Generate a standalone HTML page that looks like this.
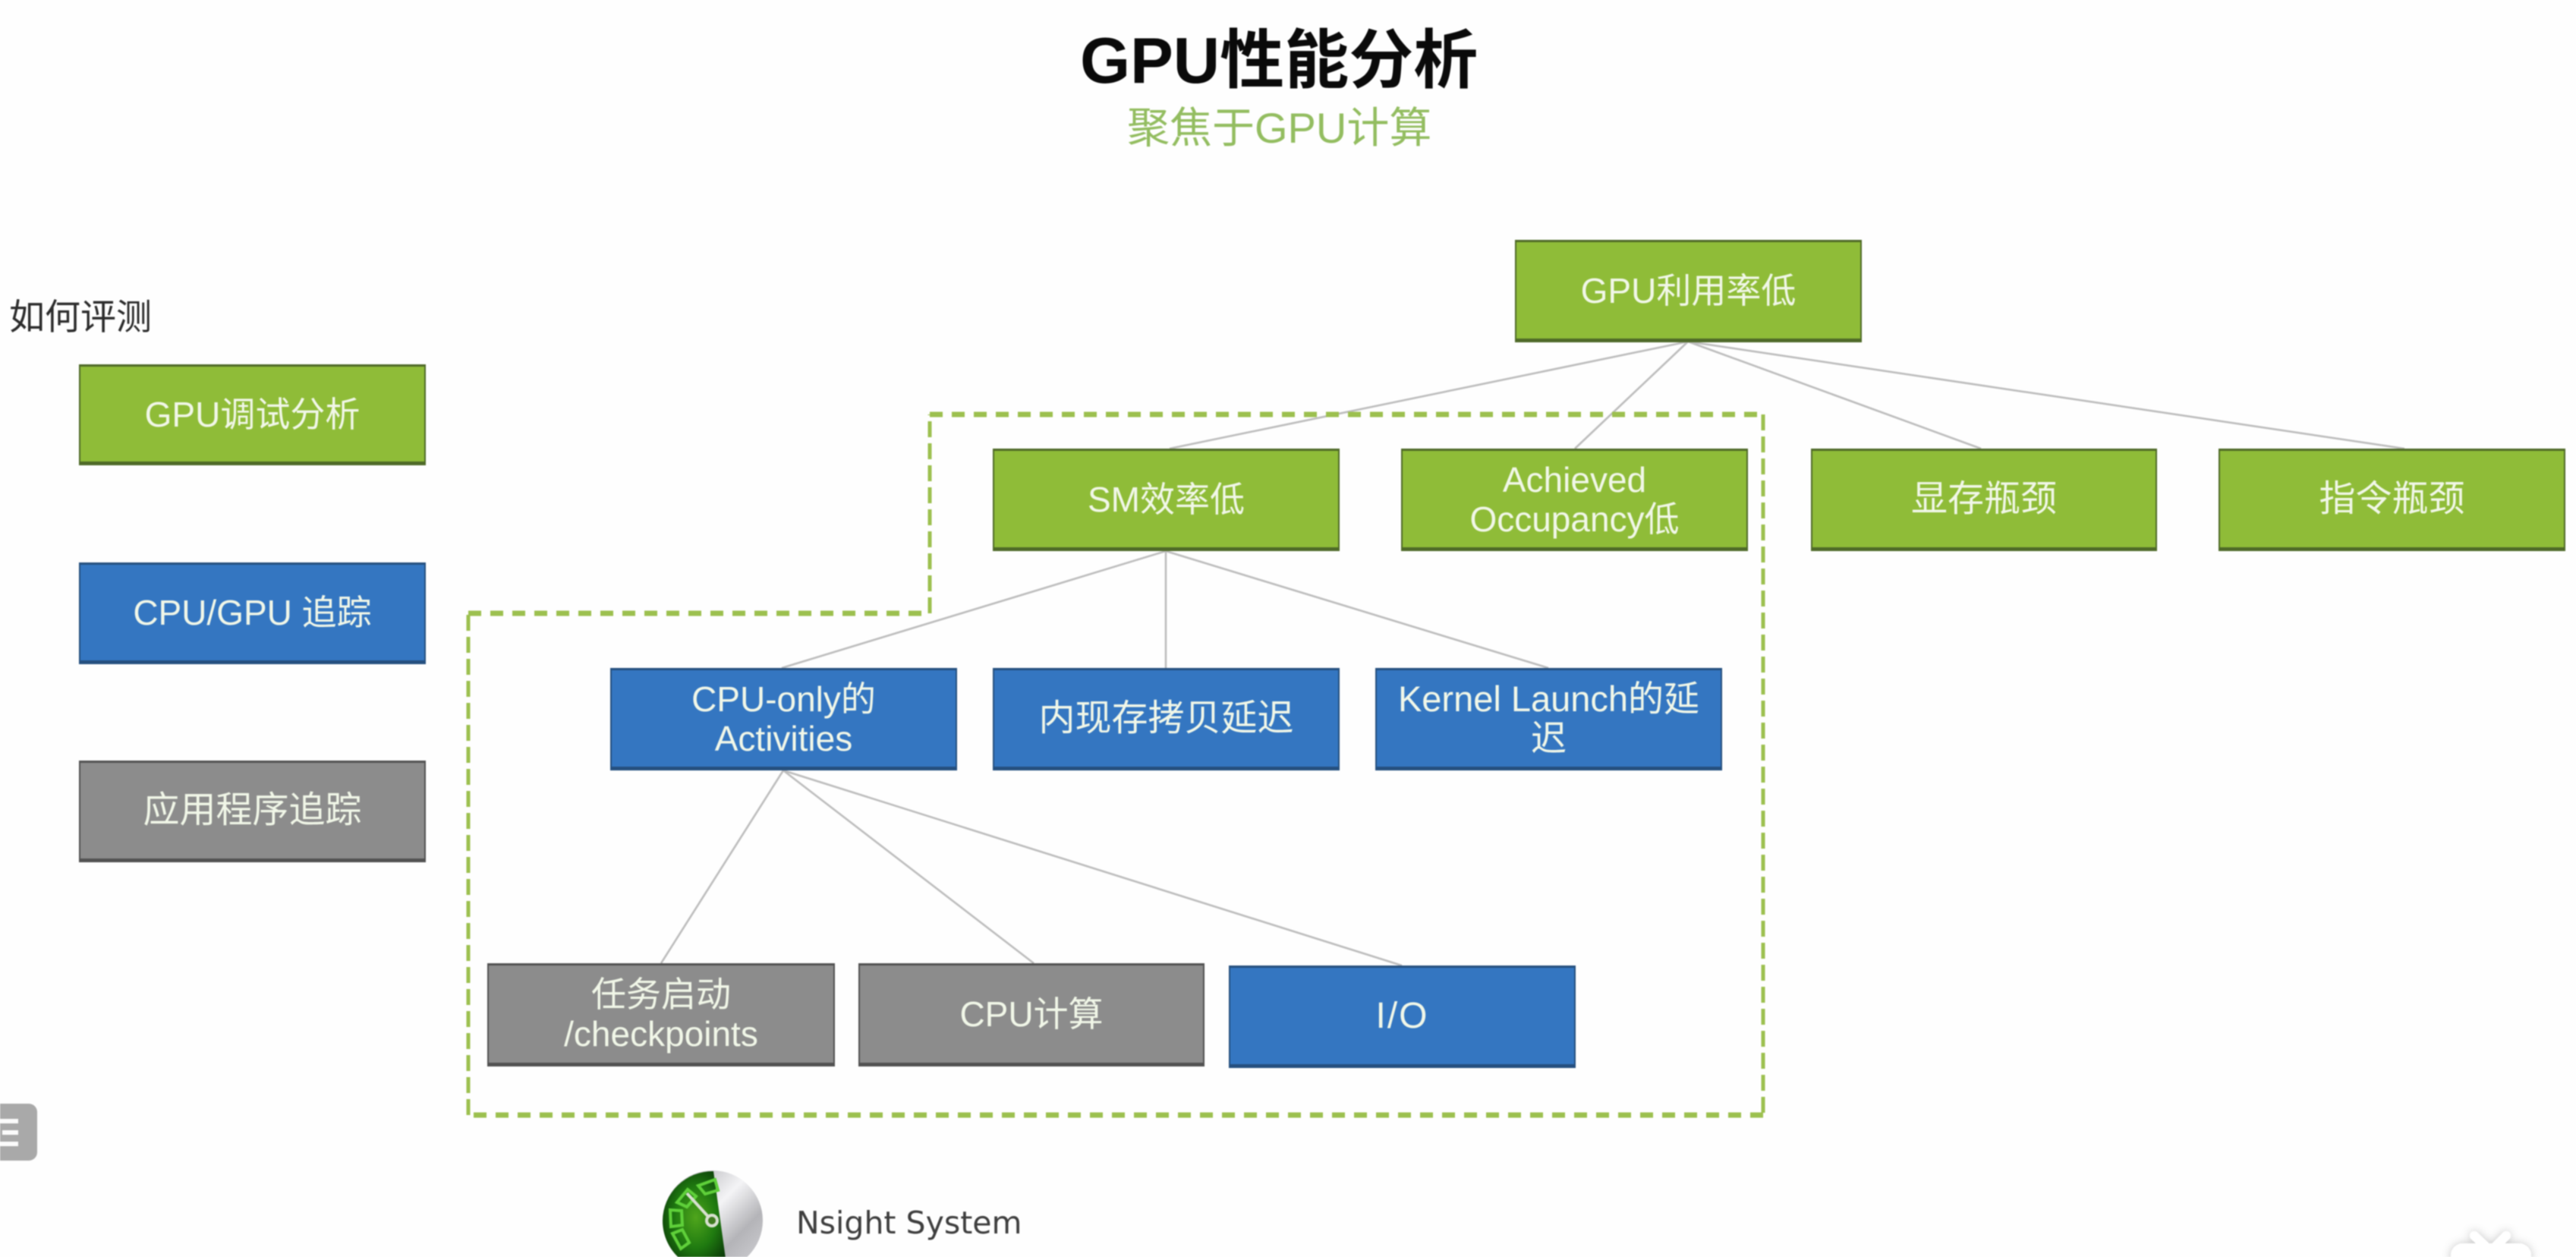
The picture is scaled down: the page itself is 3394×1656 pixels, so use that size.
<!DOCTYPE html>
<html lang="zh">
<head>
<meta charset="utf-8">
<title>GPU性能分析</title>
<style>
html,body{margin:0;padding:0;background:#fefefe;}
#p{position:relative;width:3394px;height:1656px;overflow:hidden;background:#fefefe;filter:blur(0.9px);font-family:"Liberation Sans","Noto Sans CJK SC",sans-serif;}
svg{position:absolute;left:0;top:0;}
.b{position:absolute;box-sizing:border-box;display:flex;align-items:center;justify-content:center;text-align:center;color:#f1f7e8;font-size:46px;line-height:52px;border-style:solid;border-width:3px 2px 5px 2px;}
.c{font-size:48px;}
.g{background:#8fbc38;border-color:#4f6a28;}
.u{background:#3476c1;border-color:#25507f;}
.y{background:#8c8c8c;border-color:#525252;}
.t{position:absolute;white-space:nowrap;}
</style>
</head>
<body>
<div id="p">
<svg width="3394" height="1656" viewBox="0 0 3394 1656">
  <defs>
    <radialGradient id="gr" cx="0.52" cy="0.5" r="0.6">
      <stop offset="0" stop-color="#4fa51c"/><stop offset="0.55" stop-color="#1f7a10"/><stop offset="1" stop-color="#0b3b08"/>
    </radialGradient>
    <linearGradient id="si" x1="0" y1="0" x2="1" y2="1">
      <stop offset="0" stop-color="#9a9a9f"/><stop offset="0.45" stop-color="#f4f4f6"/><stop offset="0.7" stop-color="#b4b4b8"/><stop offset="1" stop-color="#d4d4d8"/>
    </linearGradient>
    <filter id="sh" x="-30%" y="-30%" width="160%" height="160%"><feDropShadow dx="0" dy="0" stdDeviation="6" flood-color="#000" flood-opacity="0.22"/></filter>
  </defs>
  <g stroke="#bdbdbd" stroke-width="2.6" fill="none">
    <line x1="2224" y1="450" x2="1541" y2="591"/>
    <line x1="2224" y1="450" x2="2075" y2="591"/>
    <line x1="2224" y1="450" x2="2610" y2="591"/>
    <line x1="2224" y1="450" x2="3168" y2="591"/>
    <line x1="1536" y1="726" x2="1030" y2="880"/>
    <line x1="1536" y1="726" x2="1536" y2="880"/>
    <line x1="1536" y1="726" x2="2040" y2="880"/>
    <line x1="1032" y1="1015" x2="871" y2="1269"/>
    <line x1="1032" y1="1015" x2="1362" y2="1269"/>
    <line x1="1032" y1="1015" x2="1847" y2="1272"/>
  </g>
  <g fill="none" stroke="#9cc04f">
    <path d="M1225 546H2323M2323 1469H617M617 808H1225" stroke-width="7" stroke-dasharray="17 12"/>
    <path d="M2323 546V1469M617 1469V808M1225 808V546" stroke-width="5" stroke-dasharray="21 8"/>
  </g>
  <!-- Nsight icon -->
  <circle cx="939" cy="1608" r="66" fill="url(#si)"/>
  <path d="M940 1543A66 66 0 0 0 873 1608A66 66 0 0 0 905 1665L957 1665Z" fill="url(#gr)"/>
  <g fill="none" stroke="#5fd03a" stroke-width="4">
    <path d="M920 1562l22 -8l4 14l-17 5Z"/>
    <path d="M892 1584l14 -17l11 9l-12 14Z"/>
    <path d="M884 1616l-1 -22l15 1l1 19Z"/>
    <path d="M897 1645l-11 -20l13 -5l9 17Z"/>
  </g>
  <line x1="905" y1="1572" x2="936" y2="1606" stroke="#d8e0d0" stroke-width="4"/>
  <circle cx="938" cy="1608" r="7" fill="#3f7a20" stroke="#d8e0d0" stroke-width="4"/>
  <!-- bottom-left badge -->
  <rect x="-20" y="1454" width="69" height="75" rx="11" fill="#a9a9a9"/>
  <g stroke="#fbfbfb" stroke-width="6"><line x1="0" y1="1477" x2="24" y2="1477"/><line x1="3" y1="1492" x2="24" y2="1492"/><line x1="0" y1="1507" x2="24" y2="1507"/></g>
  <!-- bottom-right watermark -->
  <g fill="#ffffff" filter="url(#sh)">
    <rect x="3229" y="1638" width="106" height="60" rx="16"/>
    <path d="M3260 1628L3275 1642" stroke="#fff" stroke-width="12" stroke-linecap="round"/>
    <path d="M3302 1628L3288 1642" stroke="#fff" stroke-width="12" stroke-linecap="round"/>
  </g>
</svg>

<div class="t" style="left:1423px;top:31px;font-size:85px;line-height:100px;font-weight:bold;color:#0a0a0a;">GPU性能分析</div>
<div class="t" style="left:1485px;top:136px;font-size:56px;line-height:66px;color:#93bd60;">聚焦于GPU计算</div>
<div class="t" style="left:12px;top:391px;font-size:47px;line-height:54px;color:#2c2c2c;">如何评测</div>

<div class="b g" style="left:104px;top:480px;width:457px;height:133px;">GPU调试分析</div>
<div class="b u" style="left:104px;top:741px;width:457px;height:134px;">CPU/GPU 追踪</div>
<div class="b y c" style="left:104px;top:1002px;width:457px;height:134px;">应用程序追踪</div>

<div class="b g" style="left:1996px;top:316px;width:457px;height:135px;">GPU利用率低</div>
<div class="b g" style="left:1308px;top:591px;width:457px;height:135px;">SM效率低</div>
<div class="b g" style="left:1846px;top:591px;width:457px;height:135px;">Achieved<br>Occupancy低</div>
<div class="b g c" style="left:2386px;top:591px;width:456px;height:135px;">显存瓶颈</div>
<div class="b g c" style="left:2923px;top:591px;width:457px;height:135px;">指令瓶颈</div>

<div class="b u" style="left:804px;top:880px;width:457px;height:135px;">CPU-only的<br>Activities</div>
<div class="b u c" style="left:1308px;top:880px;width:457px;height:135px;">内现存拷贝延迟</div>
<div class="b u" style="left:1812px;top:880px;width:457px;height:135px;font-size:47px;">Kernel Launch的延<br>迟</div>

<div class="b y" style="left:642px;top:1269px;width:458px;height:136px;">任务启动<br>/checkpoints</div>
<div class="b y" style="left:1131px;top:1269px;width:456px;height:136px;">CPU计算</div>
<div class="b u" style="left:1619px;top:1272px;width:457px;height:135px;font-size:48px;letter-spacing:2px;">I/O</div>

<div class="t" style="left:1049px;top:1585px;font-family:'DejaVu Sans','Liberation Sans',sans-serif;font-size:41px;line-height:52px;color:#3e3e3e;">Nsight System</div>
</div>
</body>
</html>
